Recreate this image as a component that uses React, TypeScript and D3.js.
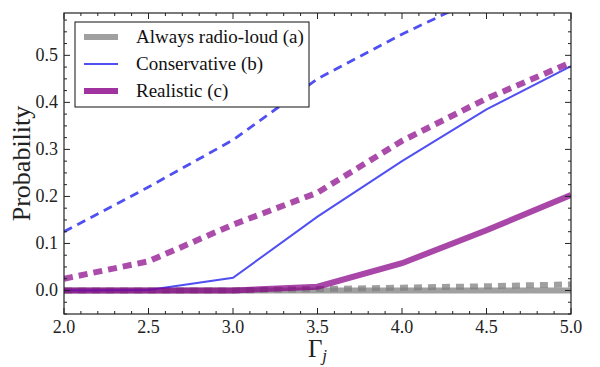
import React, { useEffect, useRef } from "react";
import * as d3 from "d3";

// Gamma_j grid and probabilities
const gammaJ = [2.0, 2.5, 3.0, 3.5, 4.0, 4.5, 5.0];
const alwaysSolid = [0, 0, 0, 0, 0, 0, 0];
const alwaysDashed = [0, 0, 0, 0.003, 0.006, 0.009, 0.013];
const conservativeSolid = [0, 0.001, 0.027, 0.157, 0.275, 0.385, 0.477];
const conservativeDashed = [0.125, 0.22, 0.32, 0.45, 0.545, 0.63, 0.7];
const realisticSolid = [0, 0, 0, 0.008, 0.058, 0.128, 0.203];
const realisticDashed = [0.025, 0.062, 0.14, 0.208, 0.318, 0.408, 0.485];

const xTicks = [2.0, 2.5, 3.0, 3.5, 4.0, 4.5, 5.0];
const yTicks = [0.0, 0.1, 0.2, 0.3, 0.4, 0.5];
const legendLabels = ["Always radio-loud (a)", "Conservative (b)", "Realistic (c)"];

const FONT = "Liberation Serif, Times New Roman, Times, serif";

const App = () => {
  const svgRef = useRef<SVGSVGElement>(null);

  useEffect(() => {
    const svg = d3.select(svgRef.current);
    svg.selectAll("*").remove();

    const width = 600;
    const height = 367;
    const margin = { top: 13, right: 29, bottom: 53, left: 64 };
    const x0 = margin.left;
    const x1 = width - margin.right;
    const y0 = height - margin.bottom;
    const y1 = margin.top;

    const x = d3.scaleLinear().domain([2, 5]).range([x0, x1]);
    const y = d3.scaleLinear().domain([-0.05, 0.59]).range([y0, y1]);

    svg.attr("viewBox", [0, 0, width, height]).attr("width", width).attr("height", height);
    svg.append("rect").attr("width", width).attr("height", height).attr("fill", "white");

    svg
      .append("defs")
      .append("clipPath")
      .attr("id", "clip")
      .append("rect")
      .attr("x", x0)
      .attr("y", y1)
      .attr("width", x1 - x0)
      .attr("height", y0 - y1);

    const line = d3
      .line<number>()
      .x((_, i) => x(gammaJ[i]))
      .y((d) => y(d));

    const series = [
      { values: alwaysSolid, color: "#808080", width: 6, dash: null, opacity: 0.75 },
      { values: alwaysDashed, color: "#808080", width: 6, dash: "8,6", opacity: 0.75 },
      { values: conservativeDashed, color: "#3030f0", width: 2.8, dash: "9,6", opacity: 0.85 },
      { values: conservativeSolid, color: "#3030f0", width: 2, dash: null, opacity: 0.85 },
      { values: realisticDashed, color: "#880088", width: 6, dash: "9,6", opacity: 0.7 },
      { values: realisticSolid, color: "#880088", width: 6, dash: null, opacity: 0.72 },
    ];

    const plot = svg.append("g").attr("clip-path", "url(#clip)");
    series.forEach((s) => {
      plot
        .append("path")
        .datum(s.values)
        .attr("fill", "none")
        .attr("stroke", s.color)
        .attr("stroke-width", s.width)
        .attr("stroke-opacity", s.opacity)
        .attr("stroke-dasharray", s.dash)
        .attr("d", line);
    });

    // frame
    svg
      .append("rect")
      .attr("x", x0)
      .attr("y", y1)
      .attr("width", x1 - x0)
      .attr("height", y0 - y1)
      .attr("fill", "none")
      .attr("stroke", "#222")
      .attr("stroke-width", 1.2);

    // ticks pointing inward on all four sides
    const ticks = svg.append("g").attr("stroke", "#222").attr("stroke-width", 1);
    const xMinor = d3.range(20, 51).map((d) => d / 10);
    xMinor.forEach((v) => {
      const major = xTicks.some((t) => Math.abs(t - v) < 1e-6);
      const len = major ? 6 : 3;
      ticks.append("line").attr("x1", x(v)).attr("x2", x(v)).attr("y1", y0).attr("y2", y0 - len);
      ticks.append("line").attr("x1", x(v)).attr("x2", x(v)).attr("y1", y1).attr("y2", y1 + len);
    });
    const yMinor = d3.range(-2, 24).map((d) => d * 0.025);
    yMinor.forEach((v) => {
      const major = yTicks.some((t) => Math.abs(t - v) < 1e-6);
      const len = major ? 6 : 3;
      ticks.append("line").attr("x1", x0).attr("x2", x0 + len).attr("y1", y(v)).attr("y2", y(v));
      ticks.append("line").attr("x1", x1).attr("x2", x1 - len).attr("y1", y(v)).attr("y2", y(v));
    });

    svg
      .append("g")
      .selectAll("text")
      .data(xTicks)
      .join("text")
      .attr("x", (d) => x(d))
      .attr("y", y0 + 19)
      .attr("text-anchor", "middle")
      .attr("font-family", FONT)
      .attr("font-size", 18)
      .attr("fill", "#222")
      .text((d) => d.toFixed(1));

    svg
      .append("g")
      .selectAll("text")
      .data(yTicks)
      .join("text")
      .attr("x", x0 - 6)
      .attr("y", (d) => y(d) + 6)
      .attr("text-anchor", "end")
      .attr("font-family", FONT)
      .attr("font-size", 18)
      .attr("fill", "#222")
      .text((d) => d.toFixed(1));

    // axis labels
    svg
      .append("text")
      .attr("transform", `translate(30,${(y0 + y1) / 2}) rotate(-90)`)
      .attr("text-anchor", "middle")
      .attr("font-family", FONT)
      .attr("font-size", 26)
      .attr("fill", "#222")
      .text("Probability");

    const xl = svg
      .append("text")
      .attr("x", (x0 + x1) / 2)
      .attr("y", 357)
      .attr("text-anchor", "middle")
      .attr("font-family", FONT)
      .attr("font-size", 25)
      .attr("fill", "#222");
    xl.append("tspan").text("Γ");
    xl.append("tspan").attr("font-size", 17).attr("font-style", "italic").attr("dy", 4).text("j");

    // legend
    const legend = svg.append("g");
    legend
      .append("rect")
      .attr("x", 75)
      .attr("y", 22)
      .attr("width", 234)
      .attr("height", 85)
      .attr("fill", "white")
      .attr("stroke", "#111")
      .attr("stroke-width", 1);
    const legendStyles = [
      { color: "#808080", width: 6, opacity: 0.75 },
      { color: "#3030f0", width: 2, opacity: 0.85 },
      { color: "#880088", width: 6, opacity: 0.8 },
    ];
    legendLabels.forEach((lab, i) => {
      const cy = 37 + i * 27;
      legend
        .append("line")
        .attr("x1", 84)
        .attr("x2", 118)
        .attr("y1", cy)
        .attr("y2", cy)
        .attr("stroke", legendStyles[i].color)
        .attr("stroke-width", legendStyles[i].width)
        .attr("stroke-opacity", legendStyles[i].opacity);
      legend
        .append("text")
        .attr("x", 136)
        .attr("y", cy + 6)
        .attr("font-family", FONT)
        .attr("font-size", 19)
        .attr("fill", "#111")
        .text(lab);
    });
  }, []);

  return <svg ref={svgRef} style={{ position: "absolute", left: 0, top: 0 }}></svg>;
};

export default App;
